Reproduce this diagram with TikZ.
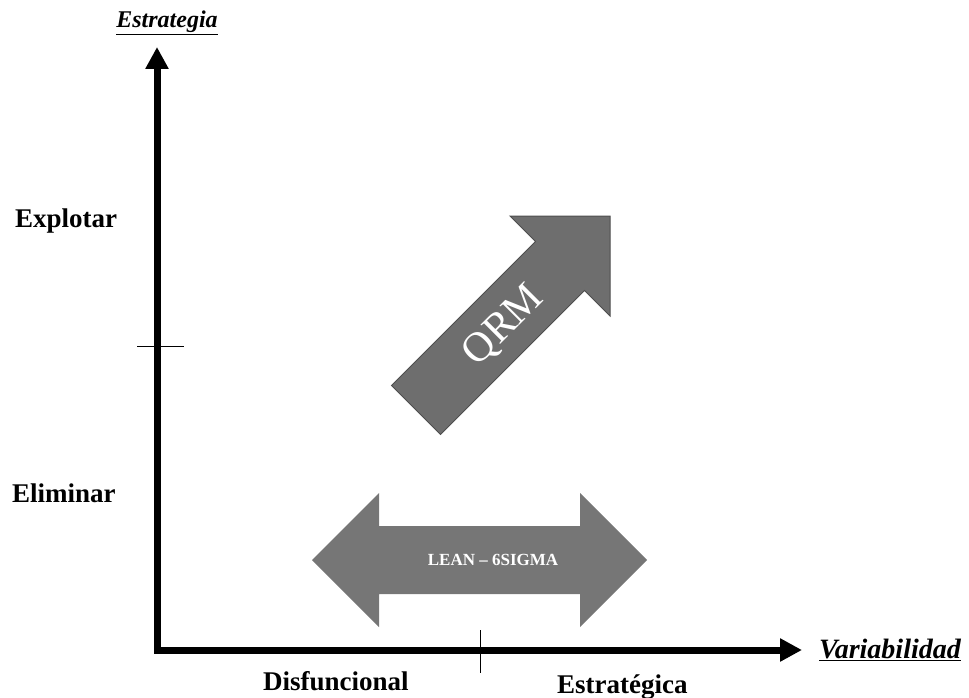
\documentclass[tikz,border=0pt]{standalone}
\usepackage{fontspec}
\setmainfont{Liberation Serif}
\usetikzlibrary{arrows.meta}
\definecolor{qrmgray}{RGB}{110,110,110}
\definecolor{qrmedge}{RGB}{78,78,78}
\definecolor{leangray}{RGB}{118,118,118}
\begin{document}
\begin{tikzpicture}[x=1pt,y=-1pt,
  axisline/.style={line width=7pt, line join=miter,
    {Triangle[length=22pt,width=22pt]}-{Triangle[length=22pt,width=22pt]}},
  tickline/.style={line width=1pt},
  lbl/.style={font=\fontsize{27}{30}\selectfont\bfseries, anchor=base west, inner sep=0pt},
  axlbl/.style={font=\fontsize{27}{30}\selectfont\bfseries\itshape, anchor=base west, inner sep=0pt},
  arrowtext/.style={text=white, inner sep=0pt}]
\useasboundingbox (0,0) rectangle (969,698);

% axes
\coordinate (ytip) at (157,47);
\coordinate (xtip) at (802,650);
\draw[axisline] (ytip) |- (xtip);

% ticks
\coordinate (yt1) at (137,346);
\coordinate (yt2) at (184,346);
\coordinate (xt1) at (480,630);
\coordinate (xt2) at (480,673);
\draw[tickline] (yt1) -- (yt2);
\draw[tickline] (xt1) -- (xt2);

% QRM arrow
\draw[fill=qrmgray, draw=qrmedge, line width=1pt, line join=miter]
  (391.5,385.5) -- (535.5,241.5) -- (510,216) -- (610,216) -- (610,316)
  -- (584.5,290.5) -- (440.5,434.5) -- cycle;
\node[arrowtext, rotate=45, font=\fontsize{42}{46}\selectfont] (qrm) at (504,326) {QRM};

% LEAN double arrow
\fill[leangray] (312,560) -- (379,493) -- (379,526) -- (580,526) -- (580,493)
  -- (647,560) -- (580,627) -- (580,594) -- (379,594) -- (379,627) -- cycle;
\node[arrowtext, font=\fontsize{17}{20}\selectfont\bfseries] (lean) at (493,560) {LEAN – 6SIGMA};

% labels
\node[axlbl, font=\fontsize{24}{28}\selectfont\bfseries\itshape, anchor=base] (estr) at (167,28) {\underline{Estrategia}};
\node[axlbl, font=\fontsize{28}{30}\selectfont\bfseries\itshape] (var) at (819,658) {\underline{Variabilidad}};
\node[lbl] (expl) at (15,227) {Explotar};
\node[lbl] (elim) at (12,502) {Eliminar};
\node[lbl] (disf) at (263,690) {Disfuncional};
\node[lbl] (estg) at (557,693) {Estratégica};
\end{tikzpicture}
\end{document}
